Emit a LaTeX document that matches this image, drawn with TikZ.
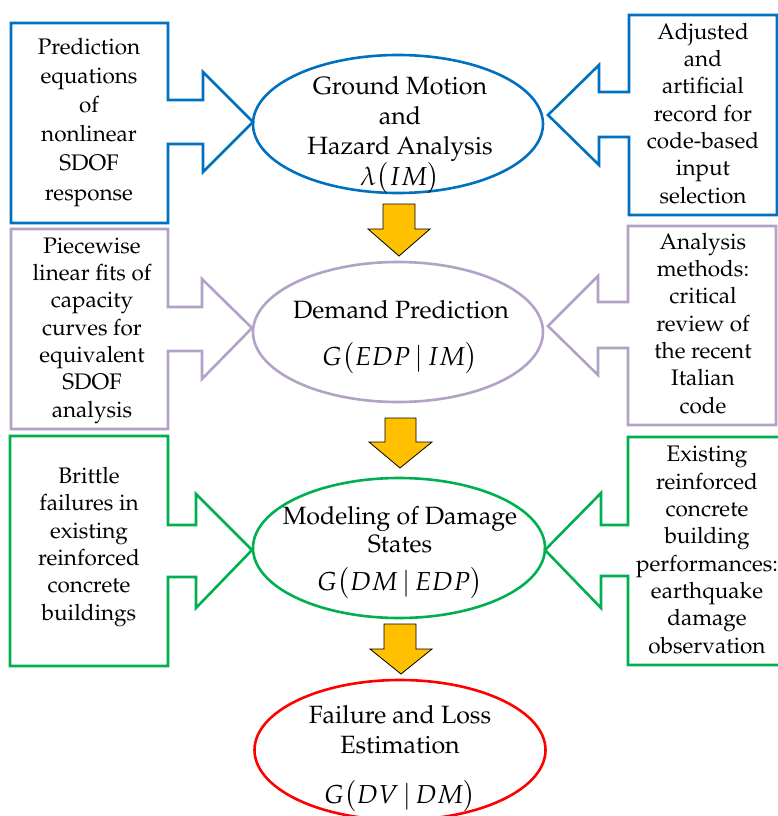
\documentclass[tikz,border=0pt]{standalone}
\usepackage[T1]{fontenc}
\usepackage{mathpazo}
\usetikzlibrary{shapes.geometric}
\definecolor{cblue}{HTML}{0070C0}
\definecolor{cpurple}{HTML}{B3A2C7}
\definecolor{cgreen}{HTML}{00B050}
\definecolor{cred}{HTML}{FF0000}
\definecolor{cyellow}{HTML}{FFC000}
\begin{document}
\begin{tikzpicture}[x=1pt,y=-1pt,
  txt/.style={font=\fontsize{22.5}{27.3}\selectfont, align=center, anchor=base, inner sep=0pt},
  etxt/.style={font=\fontsize{25}{30}\selectfont, align=center, anchor=base, inner sep=0pt},
  mth/.style={font=\fontsize{26}{30}\selectfont, anchor=base, inner sep=0pt},
  oval/.style={ellipse, draw, line width=2.6pt, inner sep=0pt},
  callout/.style={line width=2.6pt, line join=miter},
  yarrow/.style={fill=cyellow, draw=black, line width=0.8pt, line join=miter}]
\useasboundingbox (0,0) rectangle (778,816);

% ---------- ellipses ----------
\node[oval, draw=cblue, minimum width=290pt, minimum height=138pt] (gm) at (398,124) {};
\node[oval, draw=cpurple, minimum width=290pt, minimum height=140pt] (dp) at (398,332) {};
\node[oval, draw=cgreen, minimum width=292pt, minimum height=140pt] (ds) at (399,548) {};
\node[oval, draw=cred, minimum width=291pt, minimum height=140pt] (fl) at (400,750) {};

% ellipse texts (anchor = baseline of the last line)
\node[etxt, font=\fontsize{25}{30.3}\selectfont] (gmt) at (400,185) {Ground Motion\\and\\Hazard Analysis\\{\fontsize{26}{30}\selectfont$\lambda\bigl(IM\bigr)$}};
\node[etxt] (dpt) at (401,318) {Demand Prediction};
\node[mth] (dpm) at (400,365) {$G\bigl(EDP\,|\,IM\bigr)$};
\node[etxt, font=\fontsize{25}{28}\selectfont] (dst) at (400,552) {Modeling of Damage\\States};
\node[mth] (dsm) at (400,590) {$G\bigl(DM\,|\,EDP\bigr)$};
\node[etxt] (flt) at (400,753) {Failure and Loss\\Estimation};
\node[mth] (flm) at (400,803) {$G\bigl(DV\,|\,DM\bigr)$};

% ---------- callout tips ----------
\coordinate (t1) at (253,122);
\coordinate (t2) at (548,115);
\coordinate (t3) at (252,328);
\coordinate (t4) at (548,326);
\coordinate (t5) at (252,550);
\coordinate (t6) at (545,550);

% blue left
\draw[callout, cblue] (11,23) -- (168,23) -- (168,100) -- (203,100) -- (203,72) -- (t1)
  -- (203,172) -- (203,144) -- (168,144) -- (168,223) -- (11,223) -- cycle;
% blue right
\draw[callout, cblue] (777,15) -- (629,15) -- (629,92) -- (599,92) -- (599,65) -- (t2)
  -- (599,165) -- (599,137) -- (629,137) -- (629,215) -- (777,215) -- cycle;
% purple left
\draw[callout, cpurple] (11,229) -- (168,229) -- (168,307) -- (202,307) -- (202,279) -- (t3)
  -- (202,379) -- (202,351) -- (168,351) -- (168,429) -- (11,429) -- cycle;
% purple right
\draw[callout, cpurple] (776,226) -- (628,226) -- (628,302) -- (598,302) -- (598,276) -- (t4)
  -- (598,375) -- (598,348) -- (628,348) -- (628,425) -- (776,425) -- cycle;
% green left
\draw[callout, cgreen] (10,436) -- (168,436) -- (168,525) -- (196,525) -- (196,494) -- (t5)
  -- (196,608) -- (196,577) -- (168,577) -- (168,666) -- (10,666) -- cycle;
% green right
\draw[callout, cgreen] (784,437) -- (628,437) -- (628,525) -- (601,525) -- (601,493) -- (t6)
  -- (601,608) -- (601,576) -- (628,576) -- (628,665) -- (784,665) -- cycle;

% box texts (anchor = baseline of the last line)
\node[txt, font=\fontsize{22.5}{29.2}\selectfont] (b1) at (89,200) {Prediction\\equations\\of\\nonlinear\\SDOF\\response};
\node[txt] (b2) at (703,203) {Adjusted\\and\\artificial\\record for\\code-based\\input\\selection};
\node[txt] (b3) at (92,417) {Piecewise\\linear fits of\\capacity\\curves for\\equivalent\\SDOF\\analysis};
\node[txt] (b4) at (703,413) {Analysis\\methods:\\critical\\review of\\the recent\\Italian\\code};
\node[txt] (b5) at (89,620) {Brittle\\failures in\\existing\\reinforced\\concrete\\buildings};
\node[txt] (b6) at (707,653) {Existing\\reinforced\\concrete\\building\\performances:\\earthquake\\damage\\observation};

% ---------- yellow arrows ----------
\draw[yarrow] (383,204) -- (415,204) -- (415,229) -- (430,229) -- (399,256) -- (368,229) -- (383,229) -- cycle;
\draw[yarrow] (385,418) -- (416,418) -- (416,442) -- (432,442) -- (400,468) -- (369,442) -- (385,442) -- cycle;
\draw[yarrow] (384,624) -- (416,624) -- (416,649) -- (432,649) -- (401,674) -- (370,649) -- (384,649) -- cycle;
\end{tikzpicture}
\end{document}
